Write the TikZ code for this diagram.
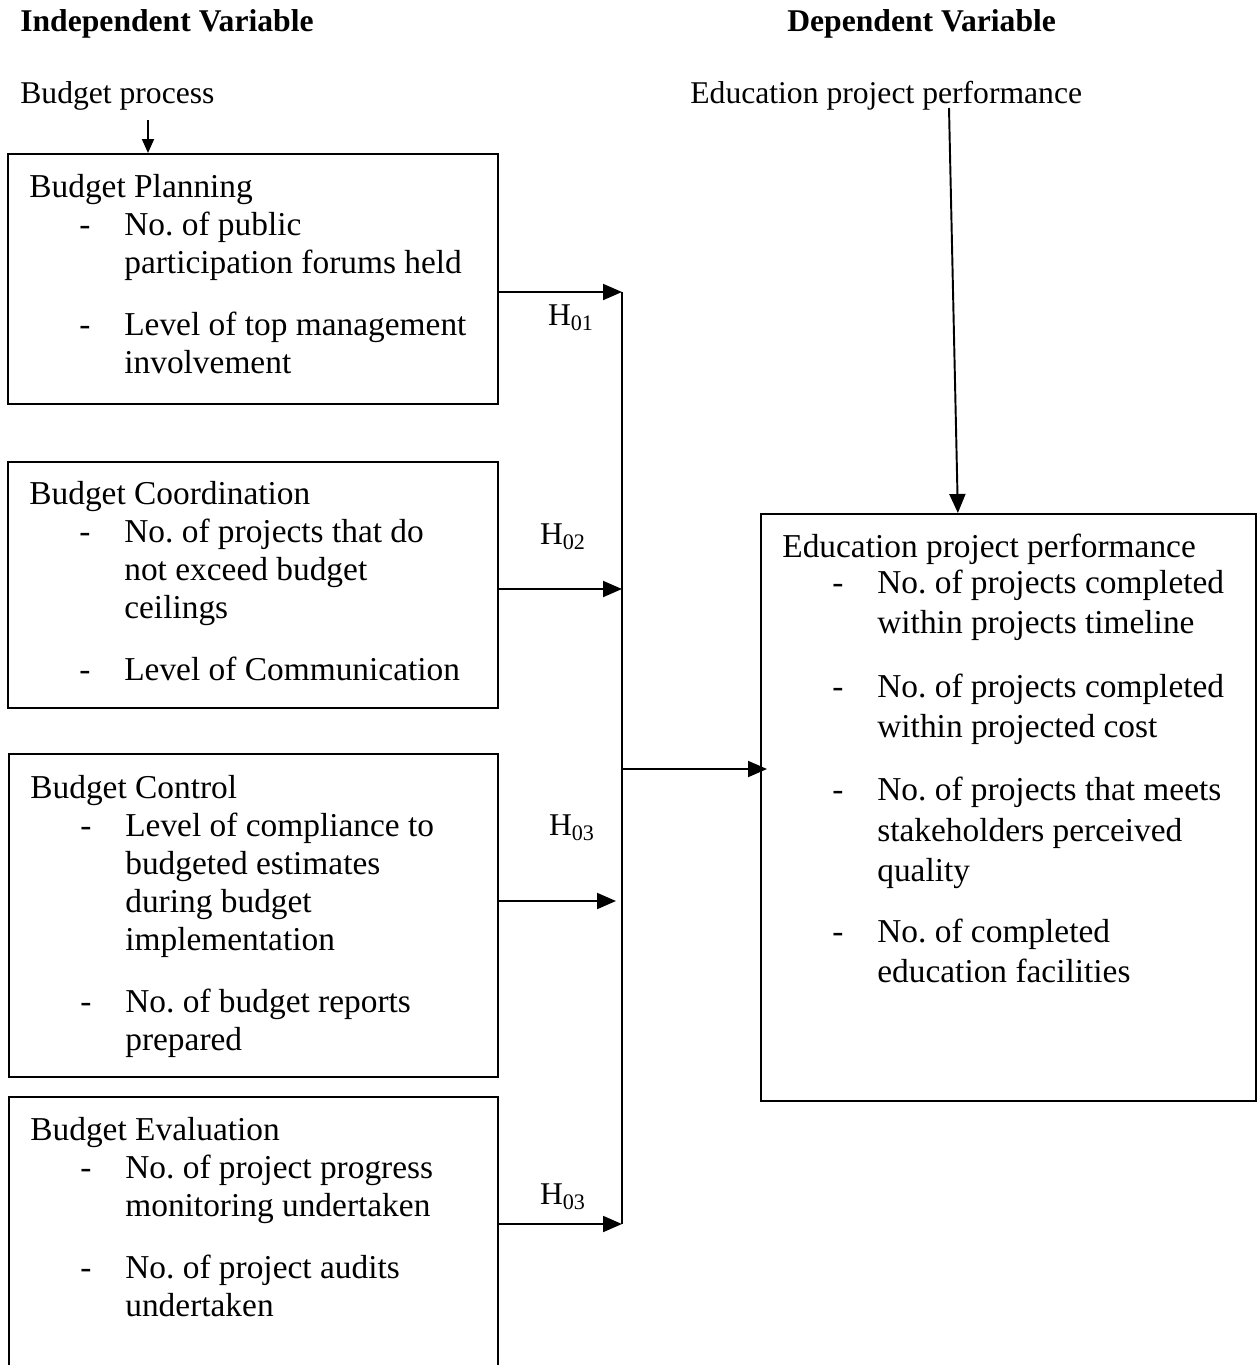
\documentclass[tikz,border=0pt]{standalone}
\usepackage{fontspec}
\setmainfont{Liberation Serif}
\usepackage{tikz}
\usetikzlibrary{positioning, arrows.meta, calc}

\frenchspacing
\newcommand{\dsh}{\hspace*{1.0cm}\makebox[0.9cm][l]{-}}
\newcommand{\cnt}{\hspace*{1.9cm}}

\begin{document}
\begin{tikzpicture}[
  box/.style={draw, line width=1pt, rectangle, inner sep=0pt, anchor=north west},
  boxtext/.style={inner sep=0pt, align=left, font=\fontsize{19}{21.6}\selectfont},
  head/.style={inner sep=0pt, anchor=west, font=\fontsize{18}{21.6}\selectfont\bfseries},
  lab/.style={inner sep=0pt, anchor=west, font=\fontsize{18}{21.6}\selectfont},
  hlab/.style={inner sep=0pt, font=\fontsize{18}{21.6}\selectfont},
  arr/.style={line width=1.1pt, -{Triangle[length=0.38cm, width=0.32cm]}},
  arrsmall/.style={line width=1.1pt, -{Triangle[length=0.28cm, width=0.24cm]}}
]
\useasboundingbox (0,0) rectangle (25.2,-27.3);

\node[head] (indep) at (0.4,-0.48) {Independent Variable};
\node[head] (dep) at (15.74,-0.48) {Dependent Variable};
\node[lab] (bproc) at (0.4,-1.92) {Budget process};
\node[lab] (edtop) at (13.8,-1.92) {Education project performance};

\node[box, minimum width=9.8cm, minimum height=5cm] (plan) at (0.14,-3.06) {};
\node[boxtext, below right=0.42cm and 0.44cm of plan.north west] (plantxt) {Budget Planning\\
\dsh No. of public\\
\cnt participation forums held\\[0.48cm]
\dsh Level of top management\\
\cnt involvement};

\node[box, minimum width=9.8cm, minimum height=4.92cm] (coord) at (0.14,-9.22) {};
\node[boxtext, below right=0.4cm and 0.44cm of coord.north west] (coordtxt) {Budget Coordination\\
\dsh No. of projects that do\\
\cnt not exceed budget\\
\cnt ceilings\\[0.48cm]
\dsh Level of Communication};

\node[box, minimum width=9.78cm, minimum height=6.46cm] (control) at (0.16,-15.06) {};
\node[boxtext, below right=0.44cm and 0.44cm of control.north west] (controltxt) {Budget Control\\
\dsh Level of compliance to\\
\cnt budgeted estimates\\
\cnt during budget\\
\cnt implementation\\[0.48cm]
\dsh No. of budget reports\\
\cnt prepared};

\node[box, minimum width=9.78cm, minimum height=6cm] (eval) at (0.16,-21.92) {};
\node[boxtext, below right=0.42cm and 0.44cm of eval.north west] (evaltxt) {Budget Evaluation\\
\dsh No. of project progress\\
\cnt monitoring undertaken\\[0.48cm]
\dsh No. of project audits\\
\cnt undertaken};

\node[box, minimum width=9.9cm, minimum height=11.74cm] (perf) at (15.2,-10.26) {};
\node[boxtext, font=\fontsize{19}{23}\selectfont, below right=0.42cm and 0.44cm of perf.north west] (perftxt) {Education project performance\\[-0.1cm]
\dsh No. of projects completed\\
\cnt within projects timeline\\[0.46cm]
\dsh No. of projects completed\\
\cnt within projected cost\\[0.46cm]
\dsh No. of projects that meets\\
\cnt stakeholders perceived\\
\cnt quality\\[0.4cm]
\dsh No. of completed\\
\cnt education facilities};

\coordinate (j1) at (12.44,-5.84);
\coordinate (j2) at (12.44,-11.78);
\coordinate (j3) at (12.32,-18.02);
\coordinate (j4) at (12.44,-24.48);
\coordinate (jm) at (12.44,-15.38);
\coordinate (bp) at (2.96,-2.4);
\coordinate (ep) at (18.98,-2.16);

\draw[line width=1.1pt] (j1) -- (j4);
\draw[arr] (plan.east |- j1) -- (j1);
\draw[arr] (coord.east |- j2) -- (j2);
\draw[arr] (control.east |- j3) -- (j3);
\draw[arr] (eval.east |- j4) -- (j4);
\draw[arr, shorten >=-0.14cm] (jm) -- (perf.west |- jm);
\draw[arrsmall] (bp) -- (plan.north -| bp);
\draw[arr] (ep) -- ([xshift=-1.01cm]perf.north);

\node[hlab] (h1) at (11.42,-6.36) {H\textsubscript{01}};
\node[hlab] (h2) at (11.26,-10.74) {H\textsubscript{02}};
\node[hlab] (h3) at (11.44,-16.56) {H\textsubscript{03}};
\node[hlab] (h4) at (11.26,-23.94) {H\textsubscript{03}};
\end{tikzpicture}
\end{document}
